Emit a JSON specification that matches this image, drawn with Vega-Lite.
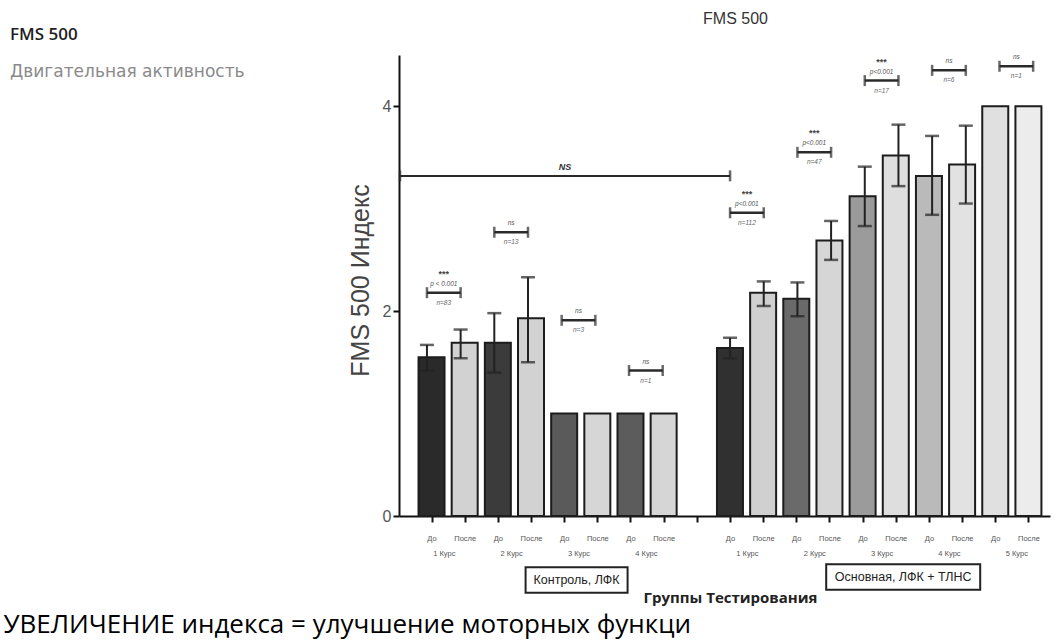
{
  "$schema": "https://vega.github.io/schema/vega-lite/v6.json",
  "width": 651,
  "height": 461,
  "autosize": "none",
  "padding": {"left": 399, "top": 55, "right": 8, "bottom": 128},
  "background": "white",
  "title": {
    "text": "FMS 500",
    "subtitle": "Двигательная активность",
    "anchor": "start",
    "frame": "group",
    "orient": "top",
    "offset": 0,
    "dx": -389,
    "dy": 71,
    "font": "Open Sans",
    "fontSize": 17,
    "fontWeight": 600,
    "color": "#1e1e1e",
    "subtitleFont": "DejaVu Sans",
    "subtitleFontSize": 17,
    "subtitleColor": "#8a8a8a",
    "subtitlePadding": 20
  },
  "datasets": {
    "bars": [
      {"group": "Контроль, ЛФК", "course": 1, "phase": "До", "slot": 0, "mean": 1.55, "lo": 1.42, "hi": 1.67},
      {"group": "Контроль, ЛФК", "course": 1, "phase": "После", "slot": 1, "mean": 1.69, "lo": 1.54, "hi": 1.82},
      {"group": "Контроль, ЛФК", "course": 2, "phase": "До", "slot": 2, "mean": 1.69, "lo": 1.40, "hi": 1.98},
      {"group": "Контроль, ЛФК", "course": 2, "phase": "После", "slot": 3, "mean": 1.93, "lo": 1.50, "hi": 2.33},
      {"group": "Контроль, ЛФК", "course": 3, "phase": "До", "slot": 4, "mean": 1.0, "lo": null, "hi": null},
      {"group": "Контроль, ЛФК", "course": 3, "phase": "После", "slot": 5, "mean": 1.0, "lo": null, "hi": null},
      {"group": "Контроль, ЛФК", "course": 4, "phase": "До", "slot": 6, "mean": 1.0, "lo": null, "hi": null},
      {"group": "Контроль, ЛФК", "course": 4, "phase": "После", "slot": 7, "mean": 1.0, "lo": null, "hi": null},
      {"group": "Основная, ЛФК + ТЛНС", "course": 1, "phase": "До", "slot": 9, "mean": 1.64, "lo": 1.54, "hi": 1.74},
      {"group": "Основная, ЛФК + ТЛНС", "course": 1, "phase": "После", "slot": 10, "mean": 2.18, "lo": 2.05, "hi": 2.29},
      {"group": "Основная, ЛФК + ТЛНС", "course": 2, "phase": "До", "slot": 11, "mean": 2.12, "lo": 1.95, "hi": 2.28},
      {"group": "Основная, ЛФК + ТЛНС", "course": 2, "phase": "После", "slot": 12, "mean": 2.69, "lo": 2.50, "hi": 2.88},
      {"group": "Основная, ЛФК + ТЛНС", "course": 3, "phase": "До", "slot": 13, "mean": 3.12, "lo": 2.83, "hi": 3.41},
      {"group": "Основная, ЛФК + ТЛНС", "course": 3, "phase": "После", "slot": 14, "mean": 3.52, "lo": 3.22, "hi": 3.82},
      {"group": "Основная, ЛФК + ТЛНС", "course": 4, "phase": "До", "slot": 15, "mean": 3.32, "lo": 2.94, "hi": 3.71},
      {"group": "Основная, ЛФК + ТЛНС", "course": 4, "phase": "После", "slot": 16, "mean": 3.43, "lo": 3.05, "hi": 3.81},
      {"group": "Основная, ЛФК + ТЛНС", "course": 5, "phase": "До", "slot": 17, "mean": 4.0, "lo": null, "hi": null},
      {"group": "Основная, ЛФК + ТЛНС", "course": 5, "phase": "После", "slot": 18, "mean": 4.0, "lo": null, "hi": null}
    ],
    "pairs": [
      {"a": 0, "b": 1, "level": 2.18, "upper": "***", "middle": "p < 0.001", "n": "n=83"},
      {"a": 2, "b": 3, "level": 2.77, "upper": "", "middle": "ns", "n": "n=13"},
      {"a": 4, "b": 5, "level": 1.91, "upper": "", "middle": "ns", "n": "n=3"},
      {"a": 6, "b": 7, "level": 1.42, "upper": "", "middle": "ns", "n": "n=1"},
      {"a": 9, "b": 10, "level": 2.96, "upper": "***", "middle": "p<0.001", "n": "n=112"},
      {"a": 11, "b": 12, "level": 3.55, "upper": "***", "middle": "p<0.001", "n": "n=47"},
      {"a": 13, "b": 14, "level": 4.25, "upper": "***", "middle": "p<0.001", "n": "n=17"},
      {"a": 15, "b": 16, "level": 4.35, "upper": "", "middle": "ns", "n": "n=6"},
      {"a": 17, "b": 18, "level": 4.39, "upper": "", "middle": "ns", "n": "n=1"}
    ],
    "overall": [
      {"a": -0.8, "b": 9, "level": 3.32, "label": "NS"}
    ]
  },
  "resolve": {"scale": {"x": "independent"}},
  "layer": [
    {
      "data": {"name": "bars"},
      "mark": {"type": "bar", "width": 26, "stroke": "#1c1c1c", "strokeWidth": 2},
      "encoding": {
        "x": {
          "field": "slot", "type": "quantitative",
          "scale": {"domain": [-0.83, 18.5], "nice": false, "zero": false},
          "axis": {
            "orient": "bottom",
            "values": [0, 1, 2, 3, 4, 5, 6, 7, 8, 9, 10, 11, 12, 13, 14, 15, 16, 17, 18],
            "labelExpr": "datum.value == 8 ? '' : (((datum.value < 8 ? datum.value : datum.value - 9) % 2) == 0 ? 'До' : 'После')",
            "labelFlush": false, "labelOverlap": false, "labelBound": false,
            "labelFont": "Liberation Sans", "labelFontSize": 7.5, "labelColor": "#555",
            "labelPadding": 12,
            "domainColor": "#111", "domainWidth": 2,
            "tickColor": "#111", "tickWidth": 2, "tickSize": 6,
            "title": "Группы Тестирования",
            "titleFont": "Open Sans", "titleFontSize": 15, "titleFontWeight": "bold", "titleColor": "#222",
            "titleX": 331, "titleY": 81, "titleAlign": "center", "titleBaseline": "middle"
          }
        },
        "y": {
          "field": "mean", "type": "quantitative",
          "scale": {"domain": [0, 4.5], "nice": false},
          "title": "FMS 500 Индекс",
          "axis": {
            "values": [0, 2, 4],
            "format": "d",
            "title": "FMS 500 Индекс",
            "titleFont": "Liberation Sans", "titleFontSize": 25, "titleFontWeight": "normal", "titleColor": "#444",
            "titleX": -39, "titleY": 225, "titleAngle": -90, "titleAlign": "center", "titleBaseline": "middle",
            "labelFont": "Liberation Sans", "labelFontSize": 16, "labelColor": "#555", "labelPadding": 2,
            "tickSize": 6, "tickWidth": 2, "tickColor": "#111",
            "domainColor": "#111", "domainWidth": 2, "grid": false
          }
        },
        "fill": {
          "field": "slot", "type": "ordinal",
          "scale": {
            "domain": [0, 1, 2, 3, 4, 5, 6, 7, 9, 10, 11, 12, 13, 14, 15, 16, 17, 18],
            "range": ["#2a2a2a", "#d2d2d2", "#3b3b3b", "#d2d2d2", "#5a5a5a", "#d6d6d6", "#5c5c5c", "#d6d6d6",
                      "#303030", "#d0d0d0", "#6a6a6a", "#d6d6d6", "#9b9b9b", "#dedede", "#bababa", "#e2e2e2", "#e0e0e0", "#ececec"]
          },
          "legend": null
        }
      }
    },
    {
      "data": {"name": "bars"},
      "transform": [{"filter": "isValid(datum.lo)"}],
      "mark": {"type": "rule", "strokeWidth": 2, "color": "#222"},
      "encoding": {
        "x": {
          "field": "slot", "type": "quantitative",
          "scale": {"domain": [-0.83, 18.5], "nice": false, "zero": false},
          "axis": {
            "orient": "top", "domain": false, "ticks": false, "labels": false,
            "title": "FMS 500",
            "titleFont": "Liberation Sans", "titleFontSize": 16, "titleFontWeight": "normal", "titleColor": "#333",
            "titleX": 336, "titleY": -37, "titleAlign": "center", "titleBaseline": "middle"
          }
        },
        "y": {"field": "lo", "type": "quantitative", "title": "FMS 500 Индекс"},
        "y2": {"field": "hi"}
      }
    },
    {
      "data": {"name": "bars"},
      "transform": [
        {"filter": "isValid(datum.lo)"},
        {"fold": ["lo", "hi"], "as": ["end", "bound"]}
      ],
      "mark": {"type": "tick", "orient": "horizontal", "size": 14, "thickness": 2.5, "color": "#222"},
      "encoding": {
        "x": {"field": "slot", "type": "quantitative", "scale": {"domain": [-0.83, 18.5], "nice": false, "zero": false}, "axis": null},
        "y": {"field": "bound", "type": "quantitative", "title": "FMS 500 Индекс"}
      }
    },
    {
      "data": {"name": "pairs"},
      "mark": {"type": "rule", "strokeWidth": 2.5, "color": "#2a2a2a"},
      "encoding": {
        "x": {
          "field": "a", "type": "quantitative",
          "scale": {"domain": [-0.83, 18.5], "nice": false, "zero": false},
          "axis": {
            "orient": "bottom",
            "values": [0.5, 2.5, 4.5, 6.5, 9.5, 11.5, 13.5, 15.5, 17.5],
            "labelExpr": "(datum.value < 8 ? floor(datum.value / 2) + 1 : floor((datum.value - 9) / 2) + 1) + ' Курс'",
            "domain": false, "ticks": false, "tickSize": 0,
            "labelFlush": false, "labelOverlap": false, "labelBound": false,
            "labelFont": "Liberation Sans", "labelFontSize": 7.5, "labelColor": "#555",
            "labelPadding": 33,
            "title": "УВЕЛИЧЕНИЕ индекса = улучшение моторных функци",
            "titleFont": "Open Sans", "titleFontSize": 26, "titleFontWeight": "normal", "titleColor": "#000",
            "titleX": -396, "titleY": 108, "titleAlign": "left", "titleBaseline": "middle", "titleLimit": 2000
          }
        },
        "x2": {"field": "b"},
        "y": {"field": "level", "type": "quantitative", "title": "FMS 500 Индекс"}
      }
    },
    {
      "data": {"name": "pairs"},
      "transform": [{"fold": ["a", "b"], "as": ["side", "edge"]}],
      "mark": {"type": "tick", "orient": "vertical", "size": 11, "thickness": 2.5, "color": "#2a2a2a"},
      "encoding": {
        "x": {"field": "edge", "type": "quantitative", "scale": {"domain": [-0.83, 18.5], "nice": false, "zero": false}, "axis": null},
        "y": {"field": "level", "type": "quantitative", "title": "FMS 500 Индекс"}
      }
    },
    {
      "data": {"name": "pairs"},
      "transform": [{"calculate": "(datum.a + datum.b) / 2", "as": "mid"}],
      "layer": [
        {
          "mark": {"type": "text", "dy": -19, "fontSize": 9, "fontWeight": "bold", "color": "#444", "font": "Liberation Sans"},
          "encoding": {
            "x": {"field": "mid", "type": "quantitative", "scale": {"domain": [-0.83, 18.5], "nice": false, "zero": false}, "axis": null},
            "y": {"field": "level", "type": "quantitative", "title": "FMS 500 Индекс"},
            "text": {"field": "upper"}
          }
        },
        {
          "mark": {"type": "text", "dy": -9, "fontSize": 6.5, "fontStyle": "italic", "color": "#555", "font": "Liberation Sans"},
          "encoding": {
            "x": {"field": "mid", "type": "quantitative", "scale": {"domain": [-0.83, 18.5], "nice": false, "zero": false}, "axis": null},
            "y": {"field": "level", "type": "quantitative", "title": "FMS 500 Индекс"},
            "text": {"field": "middle"}
          }
        },
        {
          "mark": {"type": "text", "dy": 10, "fontSize": 6.5, "fontStyle": "italic", "color": "#666", "font": "Liberation Sans"},
          "encoding": {
            "x": {"field": "mid", "type": "quantitative", "scale": {"domain": [-0.83, 18.5], "nice": false, "zero": false}, "axis": null},
            "y": {"field": "level", "type": "quantitative", "title": "FMS 500 Индекс"},
            "text": {"field": "n"}
          }
        }
      ]
    },
    {
      "data": {"name": "overall"},
      "mark": {"type": "rule", "strokeWidth": 2, "color": "#2a2a2a"},
      "encoding": {
        "x": {"field": "a", "type": "quantitative", "scale": {"domain": [-0.83, 18.5], "nice": false, "zero": false}, "axis": null},
        "x2": {"field": "b"},
        "y": {"field": "level", "type": "quantitative", "title": "FMS 500 Индекс"}
      }
    },
    {
      "data": {"name": "overall"},
      "transform": [{"fold": ["a", "b"], "as": ["side", "edge"]}],
      "mark": {"type": "tick", "orient": "vertical", "size": 11, "thickness": 2.5, "color": "#2a2a2a"},
      "encoding": {
        "x": {"field": "edge", "type": "quantitative", "scale": {"domain": [-0.83, 18.5], "nice": false, "zero": false}, "axis": null},
        "y": {"field": "level", "type": "quantitative", "title": "FMS 500 Индекс"}
      }
    },
    {
      "data": {"name": "overall"},
      "transform": [{"calculate": "(datum.a + datum.b) / 2", "as": "mid"}],
      "mark": {"type": "text", "dy": -9, "fontSize": 9, "fontWeight": "bold", "fontStyle": "italic", "color": "#333", "font": "Liberation Sans"},
      "encoding": {
        "x": {"field": "mid", "type": "quantitative", "scale": {"domain": [-0.83, 18.5], "nice": false, "zero": false}, "axis": null},
        "y": {"field": "level", "type": "quantitative", "title": "FMS 500 Индекс"},
        "text": {"field": "label"}
      }
    },
    {
      "data": {"name": "bars"},
      "transform": [
        {"aggregate": [{"op": "mean", "field": "slot", "as": "mid"}], "groupby": ["group"]},
        {"filter": "datum.group === 'Контроль, ЛФК'"}
      ],
      "layer": [
        {
          "mark": {"type": "bar", "width": 102, "xOffset": 29, "fill": "white", "stroke": "#222", "strokeWidth": 2},
          "encoding": {
            "x": {"field": "mid", "type": "quantitative", "scale": {"domain": [-0.83, 18.5], "nice": false, "zero": false}, "axis": null},
            "y": {"datum": -0.5, "type": "quantitative", "title": "FMS 500 Индекс"},
            "y2": {"datum": -0.75}
          }
        },
        {
          "mark": {"type": "text", "xOffset": 29, "fontSize": 12.5, "color": "#222", "font": "Liberation Sans"},
          "encoding": {
            "x": {"field": "mid", "type": "quantitative", "scale": {"domain": [-0.83, 18.5], "nice": false, "zero": false}, "axis": null},
            "y": {"datum": -0.625, "type": "quantitative", "title": "FMS 500 Индекс"},
            "text": {"field": "group"}
          }
        }
      ]
    },
    {
      "data": {"name": "bars"},
      "transform": [
        {"aggregate": [{"op": "mean", "field": "slot", "as": "mid"}], "groupby": ["group"]},
        {"filter": "datum.group === 'Основная, ЛФК + ТЛНС'"}
      ],
      "layer": [
        {
          "mark": {"type": "bar", "width": 154, "xOffset": 24, "fill": "white", "stroke": "#222", "strokeWidth": 2},
          "encoding": {
            "x": {"field": "mid", "type": "quantitative", "scale": {"domain": [-0.83, 18.5], "nice": false, "zero": false}, "axis": null},
            "y": {"datum": -0.47, "type": "quantitative", "title": "FMS 500 Индекс"},
            "y2": {"datum": -0.72}
          }
        },
        {
          "mark": {"type": "text", "xOffset": 24, "fontSize": 12.5, "color": "#222", "font": "Liberation Sans"},
          "encoding": {
            "x": {"field": "mid", "type": "quantitative", "scale": {"domain": [-0.83, 18.5], "nice": false, "zero": false}, "axis": null},
            "y": {"datum": -0.595, "type": "quantitative", "title": "FMS 500 Индекс"},
            "text": {"field": "group"}
          }
        }
      ]
    }
  ],
  "config": {
    "view": {"stroke": null},
    "axis": {"grid": false},
    "font": "Liberation Sans"
  }
}
